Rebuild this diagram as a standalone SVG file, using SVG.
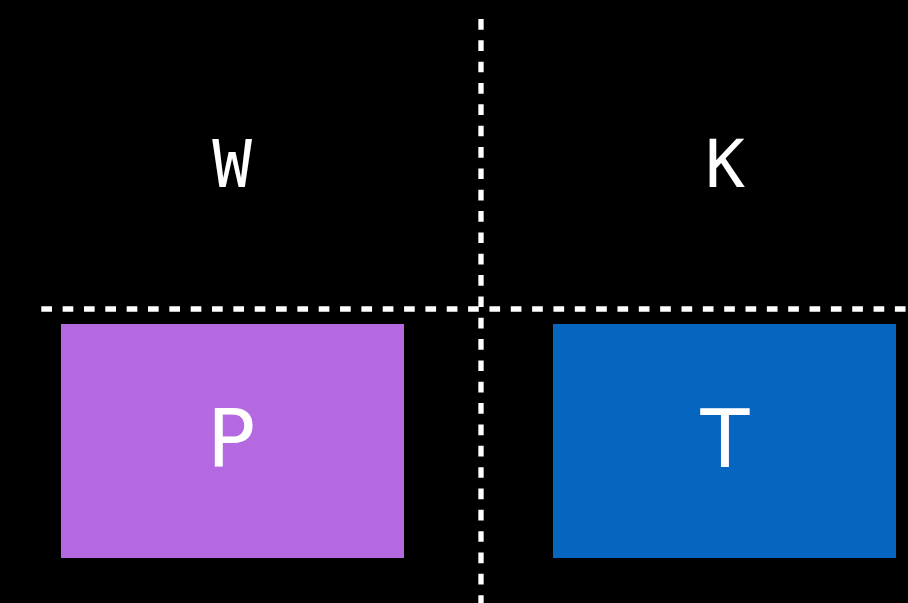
<svg xmlns="http://www.w3.org/2000/svg" width="908" height="603" viewBox="0 0 908 603">
<style>
.lbl{font-family:"DejaVu Sans","Liberation Sans",sans-serif;fill:#fff;text-anchor:middle}
.mono{font-family:"DejaVu Sans Mono","Liberation Mono",monospace}
.div{stroke:#fff;stroke-width:5.33;stroke-dasharray:10.67 10.67;fill:none}
</style>
<rect x="0" y="0" width="908" height="603" fill="#000"/>
<g id="connectors">
<line class="div" x1="41.3" y1="309" x2="908" y2="309"/>
<line class="div" x1="481" y1="19" x2="481" y2="603"/>
</g>
<g id="W"><text class="lbl mono" x="232" y="187" font-size="66">W</text></g>
<g id="K"><text class="lbl mono" x="725" y="187" font-size="66">K</text></g>
<g id="P"><rect x="61" y="324" width="343" height="234" fill="#B469E0"/><text class="lbl" x="231" y="467" font-size="80">P</text></g>
<g id="T"><rect x="553" y="324" width="343" height="234" fill="#0565BF"/><text class="lbl" x="725" y="467" font-size="80">T</text></g>
</svg>
